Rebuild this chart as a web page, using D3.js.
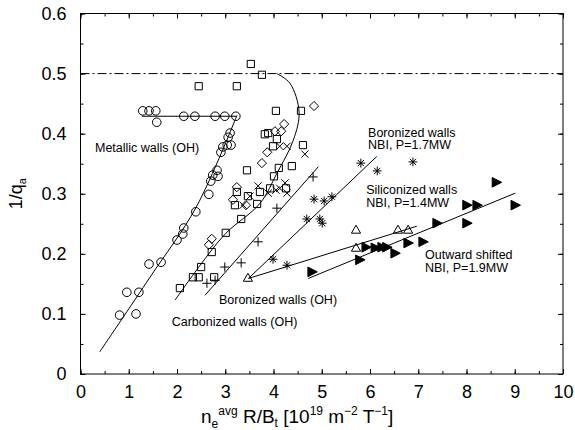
<!DOCTYPE html>
<html>
<head>
<meta charset="utf-8">
<script src="https://cdn.jsdelivr.net/npm/d3@7"></script>
<style>
  body { margin: 0; background: #fff; }
  svg { display: block; }
  text { font-family: "Liberation Sans", Arial, Helvetica, sans-serif; fill: #000; }
</style>
</head>
<body>
<div id="chart"></div>
<script>
// Data: [x, 1/q_a]
const metallicWalls = [
  [1.29, 0.438], [1.42, 0.438], [1.56, 0.438], [1.58, 0.419], [2.14, 0.429],
  [2.37, 0.429], [2.79, 0.429], [2.99, 0.429], [3.22, 0.429], [3.10, 0.401],
  [3.06, 0.394], [3.04, 0.381], [2.95, 0.378], [3.12, 0.381], [2.91, 0.369],
  [2.83, 0.339], [2.74, 0.331], [2.85, 0.329], [2.70, 0.321], [2.66, 0.299],
  [2.39, 0.270], [2.14, 0.243], [2.12, 0.233], [2.00, 0.223], [1.67, 0.186],
  [1.42, 0.183], [1.21, 0.136], [0.96, 0.136], [0.81, 0.098], [1.15, 0.100]
];
const carbonizedWalls = [
  [2.45, 0.479], [3.24, 0.479], [3.53, 0.516], [3.76, 0.498], [4.05, 0.438],
  [4.57, 0.438], [3.82, 0.399], [3.89, 0.401], [4.07, 0.391], [3.99, 0.379],
  [4.61, 0.381], [3.45, 0.339], [4.11, 0.343], [4.38, 0.346], [4.01, 0.329],
  [3.93, 0.309], [3.72, 0.303], [3.47, 0.296], [3.24, 0.303], [4.26, 0.309],
  [3.20, 0.281], [3.66, 0.283], [3.33, 0.258], [3.01, 0.235], [2.72, 0.203],
  [2.50, 0.178], [2.33, 0.161], [2.45, 0.161], [2.77, 0.161], [2.06, 0.143]
];
const diamondSeries = [
  [4.84, 0.446], [4.22, 0.416], [4.16, 0.404], [4.03, 0.404], [3.87, 0.369],
  [3.76, 0.351], [3.24, 0.311], [3.16, 0.290], [3.43, 0.281], [2.72, 0.225],
  [2.66, 0.215]
];
const crossSeries = [
  [4.13, 0.379], [4.28, 0.379], [4.65, 0.366], [3.68, 0.313], [3.89, 0.301],
  [4.13, 0.309], [4.24, 0.318], [4.28, 0.301], [3.51, 0.296], [3.37, 0.281],
  [4.05, 0.306]
];
const boronizedOH = [
  [4.07, 0.276], [3.68, 0.220], [3.33, 0.185], [2.99, 0.178], [2.62, 0.151],
  [2.79, 0.156], [4.82, 0.328]
];
const boronizedNBI = [
  [5.81, 0.351], [6.15, 0.338], [6.89, 0.353], [4.84, 0.291], [5.05, 0.288],
  [5.21, 0.295], [4.69, 0.258], [4.96, 0.258], [5.01, 0.251], [3.99, 0.191],
  [4.28, 0.181]
];
const siliconizedNBI = [
  [5.71, 0.240], [6.58, 0.240], [6.79, 0.240], [5.71, 0.210], [3.47, 0.160]
];
const outwardShifted = [
  [5.92, 0.211], [6.11, 0.210], [6.25, 0.211], [6.35, 0.211], [6.52, 0.201],
  [5.79, 0.190], [4.80, 0.170], [6.79, 0.218], [7.10, 0.220], [7.39, 0.251],
  [8.62, 0.319], [8.01, 0.281], [8.22, 0.281], [9.01, 0.281], [8.01, 0.251]
];

// Fit lines
const metallicFlat = [[1.27, 0.429], [3.24, 0.429]];
const metallicFit = [[0.40, 0.037], [1.44, 0.161], [2.40, 0.278], [3.24, 0.430]];
const limitCurve = [
  [1.96, 0.123], [2.48, 0.181], [3.01, 0.234], [3.72, 0.284], [4.07, 0.334],
  [4.41, 0.389], [4.53, 0.436], [4.34, 0.484], [4.07, 0.500]
];
const boronizedOHFit = [[2.58, 0.131], [4.93, 0.345]];
const boronizedNBIFit = [[3.48, 0.159], [6.14, 0.362]];
const siliconizedFit = [[3.48, 0.159], [6.97, 0.246]];
const outwardFit = [[4.72, 0.159], [9.01, 0.301]];
const densityLimit = 0.5;

const xTicks = d3.range(0, 11, 1);
const xMinorTicks = d3.range(0, 10.01, 0.5);
const yTicks = [0, 0.1, 0.2, 0.3, 0.4, 0.5, 0.6];
const yMinorTicks = d3.range(0, 0.601, 0.05);

// Annotations: [first line, second line, x, y] in data units
const annotations = [
  ["Metallic walls (OH)", null, 0.30, 0.369],
  ["Boronized walls", "NBI, P=1.7MW", 5.96, 0.395],
  ["Siliconized walls", "NBI, P=1.4MW", 5.92, 0.299],
  ["Outward shifted", "NBI, P=1.9MW", 7.14, 0.191],
  ["Boronized walls (OH)", null, 2.87, 0.116],
  ["Carbonized walls (OH)", null, 1.89, 0.080]
];

const width = 575, height = 430;
const margin = { top: 13.5, right: 12, bottom: 56, left: 80.5 };
const innerW = width - margin.left - margin.right;
const innerH = height - margin.top - margin.bottom;

const svg = d3.select("#chart").append("svg")
  .attr("width", width).attr("height", height);
const plot = svg.append("g").attr("transform", `translate(${margin.left},${margin.top})`);

const x = d3.scaleLinear().domain([0, 10]).range([0, innerW]);
const y = d3.scaleLinear().domain([0, 0.6]).range([innerH, 0]);

// Axes: ticks point inward on all four sides
function styleAxis(g) {
  g.select(".domain").remove();
  g.selectAll("line").attr("stroke", "#000").attr("stroke-width", 1);
  g.selectAll("text").style("font-size", "18px").attr("fill", "#000");
}
plot.append("g").attr("transform", `translate(0,${innerH})`)
  .call(d3.axisBottom(x).tickValues(xMinorTicks).tickSize(-3).tickFormat("")).call(styleAxis);
plot.append("g").attr("transform", `translate(0,${innerH})`)
  .call(d3.axisBottom(x).tickValues(xTicks).tickSize(-5).tickPadding(11).tickFormat(d3.format("d")))
  .call(styleAxis);
plot.append("g")
  .call(d3.axisTop(x).tickValues(xMinorTicks).tickSize(-3).tickFormat("")).call(styleAxis);
plot.append("g")
  .call(d3.axisTop(x).tickValues(xTicks).tickSize(-5).tickFormat("")).call(styleAxis);
plot.append("g")
  .call(d3.axisLeft(y).tickValues(yMinorTicks).tickSize(-3).tickFormat("")).call(styleAxis);
plot.append("g")
  .call(d3.axisLeft(y).tickValues(yTicks).tickSize(-5).tickPadding(14)
    .tickFormat(d => d === 0 ? "0" : d3.format(".1f")(d)))
  .call(styleAxis);
plot.append("g").attr("transform", `translate(${innerW},0)`)
  .call(d3.axisRight(y).tickValues(yMinorTicks).tickSize(-3).tickFormat("")).call(styleAxis);
plot.append("g").attr("transform", `translate(${innerW},0)`)
  .call(d3.axisRight(y).tickValues(yTicks).tickSize(-5).tickFormat("")).call(styleAxis);

plot.append("rect")
  .attr("width", innerW).attr("height", innerH)
  .attr("fill", "none").attr("stroke", "#000").attr("stroke-width", 1);

// Density limit dash-dot line
plot.append("line")
  .attr("x1", x(0)).attr("x2", x(10))
  .attr("y1", y(densityLimit)).attr("y2", y(densityLimit))
  .attr("stroke", "#000").attr("stroke-width", 1)
  .attr("stroke-dasharray", "9,3,2,3");

// Fit lines
const straight = d3.line().x(d => x(d[0])).y(d => y(d[1]));
const smooth = d3.line().x(d => x(d[0])).y(d => y(d[1])).curve(d3.curveCatmullRom);
const lineLayer = plot.append("g").attr("fill", "none").attr("stroke", "#000").attr("stroke-width", 1);
[metallicFlat, boronizedOHFit, boronizedNBIFit, siliconizedFit, outwardFit].forEach(pts => {
  lineLayer.append("path").attr("d", straight(pts));
});
[metallicFit, limitCurve].forEach(pts => {
  lineLayer.append("path").attr("d", smooth(pts));
});

// Marker shapes, centred on 0,0
const shapes = {
  circle: "M4.3,0A4.3,4.3,0,1,1,-4.3,0A4.3,4.3,0,1,1,4.3,0Z",
  square: "M-3.6,-3.6H3.6V3.6H-3.6Z",
  diamond: "M0,-4.6L4.6,0L0,4.6L-4.6,0Z",
  times: "M-3.6,-3.6L3.6,3.6M-3.6,3.6L3.6,-3.6",
  plus: "M-4.6,0H4.6M0,-4.6V4.6",
  asterisk: "M-4.4,0H4.4M0,-4.4V4.4M-3.1,-3.1L3.1,3.1M-3.1,3.1L3.1,-3.1",
  triangle: "M0,-4.6L4.6,3.4H-4.6Z",
  rightTriangle: "M-4.2,-4.8L5.2,0L-4.2,4.8Z"
};

const series = [
  { data: metallicWalls, shape: "circle", fill: "none" },
  { data: carbonizedWalls, shape: "square", fill: "none" },
  { data: diamondSeries, shape: "diamond", fill: "none" },
  { data: crossSeries, shape: "times", fill: "none" },
  { data: boronizedOH, shape: "plus", fill: "none" },
  { data: boronizedNBI, shape: "asterisk", fill: "none" },
  { data: siliconizedNBI, shape: "triangle", fill: "none" },
  { data: outwardShifted, shape: "rightTriangle", fill: "#000" }
];

series.forEach(s => {
  plot.append("g").selectAll("path")
    .data(s.data)
    .join("path")
    .attr("transform", d => `translate(${x(d[0])},${y(d[1])})`)
    .attr("d", shapes[s.shape])
    .attr("fill", s.fill)
    .attr("stroke", "#000")
    .attr("stroke-width", 1);
});

// Annotations (two-line ones are set tight, as in the figure)
annotations.forEach(([first, second, ax, ay]) => {
  const t = plot.append("text")
    .attr("x", x(ax)).attr("y", y(ay))
    .style("font-size", "12.5px");
  t.append("tspan").text(first);
  if (second) {
    t.append("tspan").attr("x", x(ax)).attr("dy", 12.5).text(second);
  }
});

// Axis titles
const yTitle = svg.append("text")
  .attr("transform", `translate(22,${margin.top + y(0.3)}) rotate(-90)`)
  .attr("text-anchor", "middle")
  .style("font-size", "18px");
yTitle.append("tspan").text("1/q");
yTitle.append("tspan").attr("dy", 4).style("font-size", "11px").text("a");

const xTitle = svg.append("text")
  .attr("x", 201).attr("y", 423)
  .style("font-size", "19px");
xTitle.append("tspan").text("n");
xTitle.append("tspan").attr("dy", 5).style("font-size", "12px").text("e");
xTitle.append("tspan").attr("dy", -13).style("font-size", "12px").text("avg");
xTitle.append("tspan").attr("dy", 8).text(" R/B");
xTitle.append("tspan").attr("dy", 4).style("font-size", "12px").text("t");
xTitle.append("tspan").attr("dy", -4).text(" [10");
xTitle.append("tspan").attr("dy", -8).style("font-size", "12px").text("19");
xTitle.append("tspan").attr("dy", 8).text(" m");
xTitle.append("tspan").attr("dy", -8).style("font-size", "12px").text("\u22122");
xTitle.append("tspan").attr("dy", 8).text(" T");
xTitle.append("tspan").attr("dy", -8).style("font-size", "12px").text("\u22121");
xTitle.append("tspan").attr("dy", 8).text("]");
</script>
</body>
</html>
